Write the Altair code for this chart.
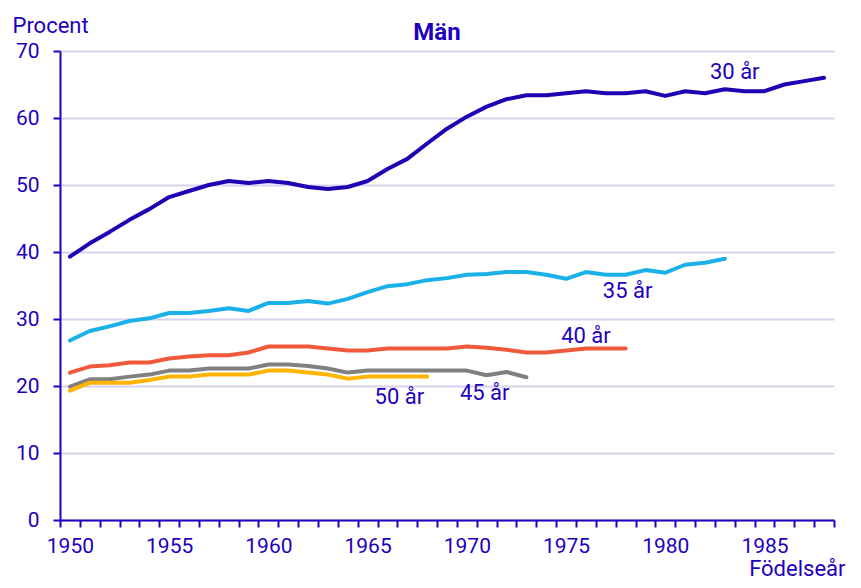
import altair as alt
import pandas as pd

years = list(range(1950, 1989))

v30 = [39.3, 41.3, 43.0, 44.8, 46.4, 48.2, 49.1, 50.0, 50.6, 50.3,
       50.6, 50.3, 49.7, 49.4, 49.7, 50.6, 52.4, 53.9, 56.2, 58.4,
       60.2, 61.7, 62.8, 63.4, 63.4, 63.7, 64.0, 63.7, 63.7, 64.0,
       63.3, 64.0, 63.7, 64.3, 64.0, 64.0, 65.0, 65.5, 66.0]
v35 = [26.8, 28.2, 28.9, 29.7, 30.1, 30.9, 30.9, 31.2, 31.6, 31.2,
       32.4, 32.4, 32.7, 32.3, 33.0, 34.0, 34.9, 35.2, 35.8, 36.1,
       36.6, 36.7, 37.0, 37.0, 36.6, 36.0, 37.0, 36.6, 36.6, 37.3,
       36.9, 38.1, 38.4, 39.0]
v40 = [22.0, 22.9, 23.1, 23.5, 23.5, 24.1, 24.4, 24.6, 24.6, 25.0,
       25.9, 25.9, 25.9, 25.6, 25.3, 25.3, 25.6, 25.6, 25.6, 25.6,
       25.9, 25.7, 25.4, 25.0, 25.0, 25.3, 25.6, 25.6, 25.6]
v45 = [19.9, 21.0, 21.0, 21.4, 21.7, 22.3, 22.3, 22.6, 22.6, 22.6,
       23.2, 23.2, 23.0, 22.6, 22.0, 22.3, 22.3, 22.3, 22.3, 22.3,
       22.3, 21.6, 22.1, 21.3]
v50 = [19.3, 20.5, 20.5, 20.5, 20.9, 21.4, 21.4, 21.7, 21.7, 21.7,
       22.3, 22.3, 22.0, 21.7, 21.1, 21.4, 21.4, 21.4, 21.4]

series_names = ["30 år", "35 år", "40 år", "45 år", "50 år"]
series_values = [v30, v35, v40, v45, v50]
series_colors = ["#2200b4", "#1ab0e8", "#f05a3c", "#808080", "#ffb400"]

label_text = ["30 år", "35 år", "40 år", "45 år", "50 år"]
label_year = [1983.5, 1978.1, 1976.0, 1970.9, 1966.6]
label_value = [66.9, 34.2, 27.5, 19.0, 18.4]

y_ticks = [0, 10, 20, 30, 40, 50, 60, 70]

BLUE = "#1e00be"
FONT = "Roboto"

rows = []
for name, vals in zip(series_names, series_values):
    for yr, v in zip(years, vals):
        rows.append({"serie": name, "year": yr, "value": v})
df = pd.DataFrame(rows)

labels_df = pd.DataFrame({"text": label_text, "year": label_year, "value": label_value})

x_tick_values = [1949.5 + 0.5 * i for i in range(79)]

x_scale = alt.Scale(domain=[1949.5, 1988.5], nice=False, zero=False)
y_scale = alt.Scale(domain=[0, 70], nice=False)

lines = alt.Chart(df).mark_line(strokeWidth=4, strokeCap="round", strokeJoin="round").encode(
    x=alt.X("year:Q", scale=x_scale,
            axis=alt.Axis(values=x_tick_values, tickCount=500, grid=False, title="Födelseår",
                          labelExpr="datum.value % 5 == 0 ? toString(datum.value) : ''",
                          labelOverlap=False, labelFlush=False,
                          tickOpacity={"condition": {"test": "datum.value % 1 == 0", "value": 0}, "value": 1},
                          tickSize=7, tickWidth=2, tickColor=BLUE,
                          domainColor=BLUE, domainWidth=2,
                          labelColor=BLUE, labelFont=FONT, labelFontSize=21, labelPadding=8,
                          titleColor=BLUE, titleFont=FONT, titleFontSize=22, titleFontWeight="normal",
                          titleAlign="right", titleBaseline="alphabetic",
                          titleX=785, titleY=55)),
    y=alt.Y("value:Q", scale=y_scale,
            axis=alt.Axis(values=y_ticks, grid=True, gridColor="#d4d4f2", gridWidth=2,
                          title="Procent", titleAngle=0, titleAlign="left", titleBaseline="alphabetic",
                          titleX=-48, titleY=-19,
                          titleColor=BLUE, titleFont=FONT, titleFontSize=22, titleFontWeight="normal",
                          tickSize=7, tickWidth=2, tickColor=BLUE,
                          domainColor=BLUE, domainWidth=2,
                          labelColor=BLUE, labelFont=FONT, labelFontSize=21, labelPadding=14)),
    color=alt.Color("serie:N", scale=alt.Scale(domain=series_names, range=series_colors), legend=None),
    detail="serie:N",
)

texts = alt.Chart(labels_df).mark_text(font=FONT, fontSize=22, color=BLUE, align="center",
                                       baseline="middle").encode(
    x=alt.X("year:Q", scale=x_scale),
    y=alt.Y("value:Q", scale=y_scale),
    text="text:N",
)

chart = alt.layer(lines, texts).properties(
    width=774, height=469,
    title=alt.TitleParams("Män", font=FONT, fontSize=24, fontWeight="bold", color=BLUE,
                          anchor="middle", dx=-10, offset=-50, baseline="alphabetic"),
    autosize=alt.AutoSizeParams(type="none"),
    padding={"left": 52, "top": 43, "right": 19, "bottom": 60},
).configure_view(stroke=None)

chart.save("out.html", embed_options={"renderer": "svg", "actions": False})
